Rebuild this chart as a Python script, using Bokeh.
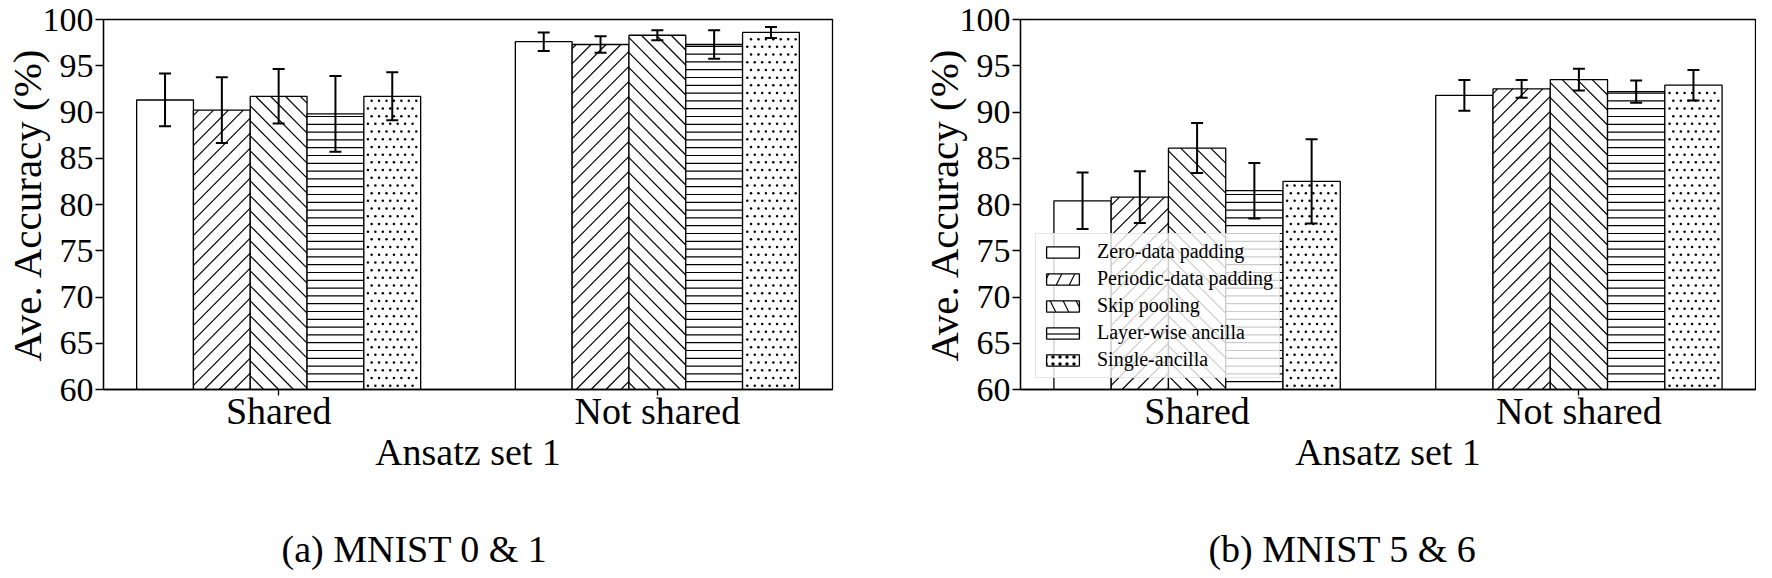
from bokeh.plotting import figure
from bokeh.models import (ColumnDataSource, FixedTicker, Range1d, Whisker, TeeHead,
                          Legend, LegendItem, Label)
from bokeh.layouts import row, column
from bokeh.embed import file_html
from bokeh.resources import INLINE

FONT = "Liberation Serif"

# ---------------- data ----------------
groups = ["Shared", "Not shared"]
methods = ["Zero-data padding", "Periodic-data padding", "Skip pooling",
           "Layer-wise ancilla", "Single-ancilla"]
y_ticks = [60, 65, 70, 75, 80, 85, 90, 95, 100]
x_label = "Ansatz set 1"
y_label = "Ave. Accuracy (%)"
captions = ["(a) MNIST 0 & 1", "(b) MNIST 5 & 6"]

# (a) MNIST 0 & 1
a_shared = [91.3, 90.2, 91.7, 89.8, 91.7]
a_shared_err = [2.85, 3.55, 2.95, 4.1, 2.6]
a_not_shared = [97.6, 97.3, 98.3, 97.3, 98.6]
a_not_shared_err = [1.0, 0.9, 0.55, 1.55, 0.6]

# (b) MNIST 5 & 6
b_shared = [80.4, 80.8, 86.1, 81.5, 82.5]
b_shared_err = [3.05, 2.8, 2.7, 3.0, 4.55]
b_not_shared = [91.8, 92.5, 93.5, 92.2, 92.9]
b_not_shared_err = [1.67, 0.95, 1.18, 1.2, 1.65]

# ---------------- layout / style constants ----------------
BAR_W = 0.15
X0, X1 = -0.4625, 1.4625
Y0, Y1 = 60, 100
PANEL_W, PANEL_H = 878, 499
TOP, BOTTOM = 19, 110
FRAME_W = 735
FRAME_H = PANEL_H - TOP - BOTTOM
KX = FRAME_W / (X1 - X0)     # px per x unit
KY = FRAME_H / (Y1 - Y0)     # px per y unit
DIAG_GAP = 15.0              # horizontal spacing of diagonal hatch lines (px)
HORZ_GAP = 7.8               # spacing of horizontal hatch lines (px)
DOT_DX, DOT_DY = 7.5, 7.7    # dot hatch pitch (px)

hatch_kind = [None, "fwd", "back", "horz", "dots"]
legend_hatch = [("blank", 12), ("right_diagonal_line", 26), ("left_diagonal_line", 26),
                ("horizontal_line", 14), ("dot", 7)]


def hatch_geometry(kind, xc, top):
    """Hatch marks for one bar, computed in pixel space from the bar's data."""
    u0, u1 = (xc - BAR_W / 2) * KX, (xc + BAR_W / 2) * KX
    v0, v1 = 0.0, (top - Y0) * KY
    segs, dots = [], []
    if kind == "fwd":
        k = int((v0 - u1) // DIAG_GAP)
        while k * DIAG_GAP <= v1 - u0:
            c = k * DIAG_GAP
            ua, ub = max(u0, v0 - c), min(u1, v1 - c)
            if ub > ua:
                segs.append((ua, ua + c, ub, ub + c))
            k += 1
    elif kind == "back":
        k = int((u0 + v0) // DIAG_GAP)
        while k * DIAG_GAP <= u1 + v1:
            c = k * DIAG_GAP
            ua, ub = max(u0, c - v1), min(u1, c - v0)
            if ub > ua:
                segs.append((ua, c - ua, ub, c - ub))
            k += 1
    elif kind == "horz":
        k = 1
        while k * HORZ_GAP < v1 - 1:
            v = k * HORZ_GAP
            segs.append((u0, v, u1, v))
            k += 1
    elif kind == "dots":
        k = 0
        while (k + 0.5) * DOT_DY < v1 - 1.5:
            v = (k + 0.5) * DOT_DY
            shift = 0.5 * DOT_DX * (k % 2)
            m = int(u0 // DOT_DX) - 1
            while m * DOT_DX + shift < u1:
                u = m * DOT_DX + shift
                if u0 + 1.5 < u < u1 - 1.5:
                    dots.append((u, v))
                m += 1
            k += 1
    to_x = lambda u: u / KX
    to_y = lambda v: Y0 + v / KY
    segs = [(to_x(a), to_y(b), to_x(c), to_y(d)) for a, b, c, d in segs]
    dots = [(to_x(a), to_y(b)) for a, b in dots]
    return segs, dots


def make_panel(shared, shared_err, not_shared, not_shared_err,
               border_left, border_right, with_legend):
    p = figure(output_backend="svg", toolbar_location=None,
               width=PANEL_W, height=PANEL_H,
               min_border_left=border_left, min_border_right=border_right,
               min_border_top=TOP, min_border_bottom=BOTTOM,
               x_range=Range1d(X0, X1), y_range=Range1d(Y0, Y1),
               background_fill_color="white", border_fill_color="white")
    p.xgrid.visible = False
    p.ygrid.visible = False
    p.outline_line_color = "black"
    p.outline_line_width = 1.3
    p.outline_line_alpha = 1.0

    seg_cols = dict(x0=[], y0=[], x1=[], y1=[])
    dot_cols = dict(x=[], y=[])
    legend_items = []
    whiskers = []
    for i, name in enumerate(methods):
        off = (i - (len(methods) - 1) / 2) * BAR_W
        xs = [g + off for g in range(len(groups))]
        tops = [shared[i], not_shared[i]]
        errs = [shared_err[i], not_shared_err[i]]
        src = ColumnDataSource(dict(
            x=xs, top=tops,
            upper=[t + e for t, e in zip(tops, errs)],
            lower=[t - e for t, e in zip(tops, errs)]))
        p.vbar(x="x", top="top", bottom=0, width=BAR_W, source=src,
               fill_color="white", line_color="black", line_width=1.3)
        for xc, t in zip(xs, tops):
            segs, dots = hatch_geometry(hatch_kind[i], xc, t)
            for a, b, c, d in segs:
                seg_cols["x0"].append(a); seg_cols["y0"].append(b)
                seg_cols["x1"].append(c); seg_cols["y1"].append(d)
            for a, b in dots:
                dot_cols["x"].append(a); dot_cols["y"].append(b)
        # legend proxy (hidden) carrying Bokeh's own hatch pattern
        pat, sc = legend_hatch[i]
        proxy = p.vbar(x="x", top="top", bottom=0, width=BAR_W, source=src,
                       fill_color="white", line_color="black", line_width=1.3,
                       hatch_pattern=pat, hatch_scale=sc, hatch_weight=1.2,
                       hatch_color="black", visible=False)
        legend_items.append(LegendItem(label=name, renderers=[proxy]))
        whiskers.append(Whisker(source=src, base="x", upper="upper", lower="lower",
                                level="annotation",
                                line_color="black", line_width=2,
                                upper_head=TeeHead(size=12, line_color="black", line_width=2),
                                lower_head=TeeHead(size=12, line_color="black", line_width=2)))

    p.segment(x0="x0", y0="y0", x1="x1", y1="y1", source=ColumnDataSource(seg_cols),
              line_color="black", line_width=1.2)
    p.scatter(x="x", y="y", source=ColumnDataSource(dot_cols), marker="circle",
              size=2.5, fill_color="black", line_color=None)
    for wh in whiskers:
        p.add_layout(wh)

    # axes
    p.xaxis.ticker = FixedTicker(ticks=list(range(len(groups))))
    p.xaxis.major_label_overrides = {i: g for i, g in enumerate(groups)}
    p.yaxis.ticker = FixedTicker(ticks=y_ticks)
    for ax in (p.xaxis[0], p.yaxis[0]):
        ax.axis_line_color = "black"
        ax.axis_line_width = 1.3
        ax.major_tick_line_color = "black"
        ax.major_tick_line_width = 1.3
        ax.major_tick_in = 0
        ax.minor_tick_line_color = None
        ax.major_label_text_font = FONT
        ax.major_label_text_color = "black"
        ax.axis_label_text_font = FONT
        ax.axis_label_text_font_style = "normal"
        ax.axis_label_text_color = "black"
    xa = p.xaxis[0]
    xa.major_tick_out = 6
    xa.major_label_text_font_size = "38px"
    xa.major_label_standoff = -6
    xa.axis_label = x_label
    xa.axis_label_text_font_size = "38px"
    xa.axis_label_standoff = -4
    ya = p.yaxis[0]
    ya.major_tick_out = 8
    ya.major_label_text_font_size = "34px"
    ya.major_label_standoff = 2
    ya.axis_label = y_label
    ya.axis_label_text_font_size = "41px"
    ya.axis_label_standoff = -10

    if with_legend:
        legend = Legend(items=legend_items, location=(15, 11))
        legend.label_text_font = FONT
        legend.label_text_font_size = "20px"
        legend.label_text_color = "black"
        legend.glyph_width = 41
        legend.glyph_height = 14
        legend.label_standoff = 14
        legend.label_height = 20
        legend.spacing = 4
        legend.padding = 6
        legend.margin = 0
        legend.border_line_color = "#cccccc"
        legend.border_line_width = 1
        legend.background_fill_color = "white"
        legend.background_fill_alpha = 0.8
        p.add_layout(legend)
    return p


pa = make_panel(a_shared, a_shared_err, a_not_shared, a_not_shared_err, 97, 46, False)
pb = make_panel(b_shared, b_shared_err, b_not_shared, b_not_shared_err, 142, 1, True)

# caption strip below both panels
CAP_H = 71
cap = figure(output_backend="svg", toolbar_location=None, width=2 * PANEL_W, height=CAP_H,
             x_range=Range1d(0, 2 * PANEL_W), y_range=Range1d(0, CAP_H), min_border=0,
             outline_line_color=None, background_fill_color="white",
             border_fill_color="white")
cap.axis.visible = False
cap.xgrid.visible = False
cap.ygrid.visible = False
for text, cx in zip(captions, [414, 1342]):
    cap.add_layout(Label(x=cx, y=22, text=text, text_align="center",
                         text_baseline="middle", text_font=FONT,
                         text_font_size="38px", text_color="black"))

layout = column(row(pa, pb), cap)
open("out.html", "w").write(file_html(layout, INLINE))
